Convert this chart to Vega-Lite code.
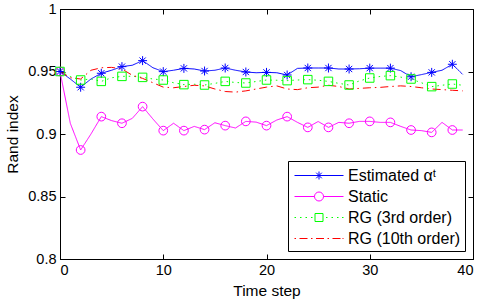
{
  "$schema": "https://vega.github.io/schema/vega-lite/v6.json",
  "width": 413,
  "height": 250,
  "padding": {"left": 5, "top": 1, "right": 9, "bottom": 0},
  "background": "white",
  "config": {
    "view": {"stroke": "black", "strokeWidth": 1},
    "axis": {
      "labelFont": "Liberation Sans", "labelFontSize": 14.5, "labelColor": "black",
      "titleFont": "Liberation Sans", "titleFontSize": 15.5, "titleFontWeight": "normal", "titleColor": "black",
      "domainColor": "black", "tickColor": "black", "grid": false, "tickSize": -5, "labelPadding": 9
    },
    "legend": {"labelFont": "Liberation Sans"}
  },
  "data": {"values": [
    {"t":0,"s":"Estimated αᵗ","v":0.950},{"t":1,"s":"Estimated αᵗ","v":0.944},{"t":2,"s":"Estimated αᵗ","v":0.9374},{"t":3,"s":"Estimated αᵗ","v":0.944},{"t":4,"s":"Estimated αᵗ","v":0.9486},{"t":5,"s":"Estimated αᵗ","v":0.951},{"t":6,"s":"Estimated αᵗ","v":0.9539},{"t":7,"s":"Estimated αᵗ","v":0.955},{"t":8,"s":"Estimated αᵗ","v":0.9587},{"t":9,"s":"Estimated αᵗ","v":0.953},{"t":10,"s":"Estimated αᵗ","v":0.9499},{"t":11,"s":"Estimated αᵗ","v":0.951},{"t":12,"s":"Estimated αᵗ","v":0.9525},{"t":13,"s":"Estimated αᵗ","v":0.952},{"t":14,"s":"Estimated αᵗ","v":0.9504},{"t":15,"s":"Estimated αᵗ","v":0.951},{"t":16,"s":"Estimated αᵗ","v":0.9528},{"t":17,"s":"Estimated αᵗ","v":0.951},{"t":18,"s":"Estimated αᵗ","v":0.9496},{"t":19,"s":"Estimated αᵗ","v":0.949},{"t":20,"s":"Estimated αᵗ","v":0.9493},{"t":21,"s":"Estimated αᵗ","v":0.949},{"t":22,"s":"Estimated αᵗ","v":0.9472},{"t":23,"s":"Estimated αᵗ","v":0.9525},{"t":24,"s":"Estimated αᵗ","v":0.9528},{"t":25,"s":"Estimated αᵗ","v":0.9528},{"t":26,"s":"Estimated αᵗ","v":0.9528},{"t":27,"s":"Estimated αᵗ","v":0.952},{"t":28,"s":"Estimated αᵗ","v":0.952},{"t":29,"s":"Estimated αᵗ","v":0.9522},{"t":30,"s":"Estimated αᵗ","v":0.9527},{"t":31,"s":"Estimated αᵗ","v":0.9527},{"t":32,"s":"Estimated αᵗ","v":0.9527},{"t":33,"s":"Estimated αᵗ","v":0.9507},{"t":34,"s":"Estimated αᵗ","v":0.9458},{"t":35,"s":"Estimated αᵗ","v":0.9475},{"t":36,"s":"Estimated αᵗ","v":0.9493},{"t":37,"s":"Estimated αᵗ","v":0.951},{"t":38,"s":"Estimated αᵗ","v":0.9558},{"t":39,"s":"Estimated αᵗ","v":0.9477},
    {"t":0,"s":"Static","v":0.950},{"t":1,"s":"Static","v":0.9085},{"t":2,"s":"Static","v":0.8872},{"t":3,"s":"Static","v":0.900},{"t":4,"s":"Static","v":0.9139},{"t":5,"s":"Static","v":0.9107},{"t":6,"s":"Static","v":0.9086},{"t":7,"s":"Static","v":0.9125},{"t":8,"s":"Static","v":0.9219},{"t":9,"s":"Static","v":0.912},{"t":10,"s":"Static","v":0.9027},{"t":11,"s":"Static","v":0.9086},{"t":12,"s":"Static","v":0.9027},{"t":13,"s":"Static","v":0.9061},{"t":14,"s":"Static","v":0.9035},{"t":15,"s":"Static","v":0.909},{"t":16,"s":"Static","v":0.9067},{"t":17,"s":"Static","v":0.9048},{"t":18,"s":"Static","v":0.9101},{"t":19,"s":"Static","v":0.9095},{"t":20,"s":"Static","v":0.9067},{"t":21,"s":"Static","v":0.9112},{"t":22,"s":"Static","v":0.9139},{"t":23,"s":"Static","v":0.9093},{"t":24,"s":"Static","v":0.9053},{"t":25,"s":"Static","v":0.910},{"t":26,"s":"Static","v":0.9053},{"t":27,"s":"Static","v":0.9093},{"t":28,"s":"Static","v":0.9086},{"t":29,"s":"Static","v":0.9101},{"t":30,"s":"Static","v":0.9101},{"t":31,"s":"Static","v":0.9093},{"t":32,"s":"Static","v":0.9093},{"t":33,"s":"Static","v":0.9061},{"t":34,"s":"Static","v":0.9032},{"t":35,"s":"Static","v":0.9027},{"t":36,"s":"Static","v":0.9013},{"t":37,"s":"Static","v":0.9093},{"t":38,"s":"Static","v":0.9032},{"t":39,"s":"Static","v":0.9032},
    {"t":0,"s":"RG (3rd order)","v":0.950},{"t":1,"s":"RG (3rd order)","v":0.946},{"t":2,"s":"RG (3rd order)","v":0.9432},{"t":3,"s":"RG (3rd order)","v":0.944},{"t":4,"s":"RG (3rd order)","v":0.9421},{"t":5,"s":"RG (3rd order)","v":0.945},{"t":6,"s":"RG (3rd order)","v":0.9461},{"t":7,"s":"RG (3rd order)","v":0.9462},{"t":8,"s":"RG (3rd order)","v":0.9453},{"t":9,"s":"RG (3rd order)","v":0.944},{"t":10,"s":"RG (3rd order)","v":0.9432},{"t":11,"s":"RG (3rd order)","v":0.941},{"t":12,"s":"RG (3rd order)","v":0.9395},{"t":13,"s":"RG (3rd order)","v":0.9398},{"t":14,"s":"RG (3rd order)","v":0.9392},{"t":15,"s":"RG (3rd order)","v":0.9405},{"t":16,"s":"RG (3rd order)","v":0.9421},{"t":17,"s":"RG (3rd order)","v":0.9412},{"t":18,"s":"RG (3rd order)","v":0.9408},{"t":19,"s":"RG (3rd order)","v":0.942},{"t":20,"s":"RG (3rd order)","v":0.9432},{"t":21,"s":"RG (3rd order)","v":0.943},{"t":22,"s":"RG (3rd order)","v":0.9427},{"t":23,"s":"RG (3rd order)","v":0.9432},{"t":24,"s":"RG (3rd order)","v":0.9435},{"t":25,"s":"RG (3rd order)","v":0.943},{"t":26,"s":"RG (3rd order)","v":0.9421},{"t":27,"s":"RG (3rd order)","v":0.9405},{"t":28,"s":"RG (3rd order)","v":0.9392},{"t":29,"s":"RG (3rd order)","v":0.9425},{"t":30,"s":"RG (3rd order)","v":0.9448},{"t":31,"s":"RG (3rd order)","v":0.946},{"t":32,"s":"RG (3rd order)","v":0.9467},{"t":33,"s":"RG (3rd order)","v":0.9455},{"t":34,"s":"RG (3rd order)","v":0.944},{"t":35,"s":"RG (3rd order)","v":0.941},{"t":36,"s":"RG (3rd order)","v":0.9379},{"t":37,"s":"RG (3rd order)","v":0.939},{"t":38,"s":"RG (3rd order)","v":0.940},{"t":39,"s":"RG (3rd order)","v":0.939},
    {"t":0,"s":"RG (10th order)","v":0.950},{"t":1,"s":"RG (10th order)","v":0.945},{"t":2,"s":"RG (10th order)","v":0.944},{"t":3,"s":"RG (10th order)","v":0.951},{"t":4,"s":"RG (10th order)","v":0.953},{"t":5,"s":"RG (10th order)","v":0.9533},{"t":6,"s":"RG (10th order)","v":0.952},{"t":7,"s":"RG (10th order)","v":0.947},{"t":8,"s":"RG (10th order)","v":0.9445},{"t":9,"s":"RG (10th order)","v":0.941},{"t":10,"s":"RG (10th order)","v":0.9375},{"t":11,"s":"RG (10th order)","v":0.937},{"t":12,"s":"RG (10th order)","v":0.938},{"t":13,"s":"RG (10th order)","v":0.939},{"t":14,"s":"RG (10th order)","v":0.9385},{"t":15,"s":"RG (10th order)","v":0.936},{"t":16,"s":"RG (10th order)","v":0.934},{"t":17,"s":"RG (10th order)","v":0.9335},{"t":18,"s":"RG (10th order)","v":0.9345},{"t":19,"s":"RG (10th order)","v":0.936},{"t":20,"s":"RG (10th order)","v":0.9375},{"t":21,"s":"RG (10th order)","v":0.9385},{"t":22,"s":"RG (10th order)","v":0.936},{"t":23,"s":"RG (10th order)","v":0.9355},{"t":24,"s":"RG (10th order)","v":0.937},{"t":25,"s":"RG (10th order)","v":0.9375},{"t":26,"s":"RG (10th order)","v":0.939},{"t":27,"s":"RG (10th order)","v":0.938},{"t":28,"s":"RG (10th order)","v":0.936},{"t":29,"s":"RG (10th order)","v":0.9365},{"t":30,"s":"RG (10th order)","v":0.937},{"t":31,"s":"RG (10th order)","v":0.9373},{"t":32,"s":"RG (10th order)","v":0.938},{"t":33,"s":"RG (10th order)","v":0.9385},{"t":34,"s":"RG (10th order)","v":0.938},{"t":35,"s":"RG (10th order)","v":0.937},{"t":36,"s":"RG (10th order)","v":0.936},{"t":37,"s":"RG (10th order)","v":0.9355},{"t":38,"s":"RG (10th order)","v":0.935},{"t":39,"s":"RG (10th order)","v":0.9345}
  ]},
  "resolve": {"axis": {"x": "independent", "y": "independent"}, "scale": {"shape": "independent", "size": "independent", "color": "independent"}},
  "layer": [
    {
      "mark": {"type": "line", "strokeWidth": 1, "clip": true},
      "encoding": {
        "x": {"field": "t", "type": "quantitative", "scale": {"domain": [0, 40], "nice": false},
              "axis": {"orient": "bottom", "title": "Time step", "values": [0, 10, 20, 30, 40], "titlePadding": 7}},
        "y": {"field": "v", "type": "quantitative", "scale": {"domain": [0.8, 1], "nice": false, "zero": false},
              "axis": {"orient": "left", "title": "Rand index", "values": [0.8, 0.85, 0.9, 0.95, 1], "format": "~g", "titlePadding": 7}},
        "color": {"field": "s", "type": "nominal",
                  "scale": {"domain": ["Estimated αᵗ", "Static", "RG (3rd order)", "RG (10th order)"], "range": ["#0000ff", "#ff00ff", "#00ff00", "#ff0000"]},
                  "legend": null},
        "strokeDash": {"field": "s", "type": "nominal",
                  "scale": {"domain": ["Estimated αᵗ", "Static", "RG (3rd order)", "RG (10th order)"], "range": [[1, 0], [1, 0], [1.5, 4], [8, 4, 1.5, 4]]},
                  "legend": null},
        "order": {"field": "t"}
      }
    },
    {
      "transform": [{"filter": "datum.t % 2 == 0 && datum.s != 'RG (10th order)'"}],
      "mark": {"type": "point", "filled": false, "strokeWidth": 1, "opacity": 1},
      "encoding": {
        "x": {"field": "t", "type": "quantitative", "axis": {"orient": "top", "labels": false, "title": null, "values": [0, 10, 20, 30, 40], "domain": false}},
        "y": {"field": "v", "type": "quantitative", "axis": {"orient": "right", "labels": false, "title": null, "values": [0.8, 0.85, 0.9, 0.95, 1], "domain": false}},
        "color": {"field": "s", "type": "nominal",
                  "scale": {"domain": ["Estimated αᵗ", "Static", "RG (3rd order)"], "range": ["#0000ff", "#ff00ff", "#00ff00"]},
                  "legend": null},
        "shape": {"field": "s", "type": "nominal",
                  "scale": {"domain": ["Estimated αᵗ", "Static", "RG (3rd order)"], "range": ["M-1,0H1M0,-1V1M-0.7,-0.7L0.7,0.7M-0.7,0.7L0.7,-0.7", "circle", "square"]},
                  "legend": null},
        "size": {"field": "s", "type": "nominal",
                 "scale": {"domain": ["Estimated αᵗ", "Static", "RG (3rd order)"], "range": [80, 72, 60]},
                 "legend": null}
      }
    },
    {
      "transform": [{"filter": "datum.t < 0"}],
      "mark": {"type": "point", "filled": false, "strokeWidth": 1, "opacity": 1},
      "encoding": {
        "x": {"field": "t", "type": "quantitative", "axis": null},
        "y": {"field": "v", "type": "quantitative", "axis": null},
        "color": {"field": "s", "type": "nominal",
                  "scale": {"domain": ["Estimated αᵗ", "Static", "RG (3rd order)", "RG (10th order)"], "range": ["#0000ff", "#ff00ff", "#00ff00", "#ff0000"]},
                  "legend": {"title": null, "orient": "bottom-right", "offset": 8, "padding": 4, "strokeColor": "black", "fillColor": "white",
                              "labelFontSize": 16, "labelColor": "black", "symbolSize": 400, "symbolStrokeWidth": 1, "labelOffset": 35, "rowPadding": 2}},
        "shape": {"field": "s", "type": "nominal",
                  "scale": {"domain": ["Estimated αᵗ", "Static", "RG (3rd order)", "RG (10th order)"],
                            "range": [
                              "M-0.8,0H4.1M1.25,0H2.05M1.65,-0.4V0.4M1.37,-0.28L1.93,0.28M1.37,0.28L1.93,-0.28",
                              "M-0.8,0H1.2M2.1,0H4.1M2.1,0A0.45,0.45,0,1,1,1.2,0A0.45,0.45,0,1,1,2.1,0",
                              "M-0.8,0H-0.65M-0.25,0H-0.1M0.3,0H0.45M0.85,0H1.0M1.25,-0.4H2.05V0.4H1.25ZM2.35,0H2.5M2.9,0H3.05M3.45,0H3.6M3.95,0H4.1",
                              "M-0.8,0H-0.65M-0.3,0H0.5M0.85,0H1.0M1.35,0H2.15M2.5,0H2.65M3.0,0H3.8M4.0,0H4.1"
                            ]},
                  "legend": {"title": null, "orient": "bottom-right", "offset": 8, "padding": 4, "strokeColor": "black", "fillColor": "white",
                              "labelFontSize": 16, "labelColor": "black", "symbolSize": 400, "symbolStrokeWidth": 1, "labelOffset": 35, "rowPadding": 2}}
      }
    }
  ]
}
